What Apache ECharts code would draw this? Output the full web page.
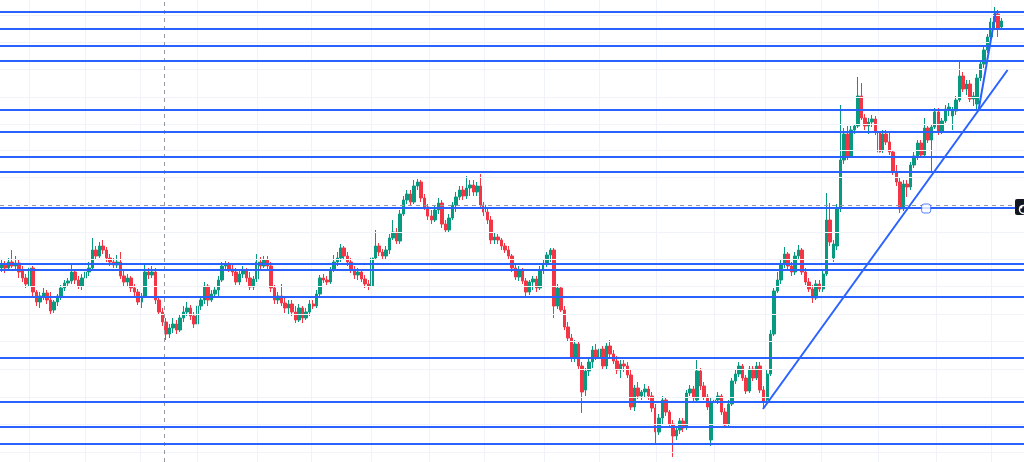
<!DOCTYPE html>
<html><head><meta charset="utf-8">
<script src="https://cdn.jsdelivr.net/npm/echarts@6/dist/echarts.min.js"></script>
<style>html,body{margin:0;padding:0;background:#fff;overflow:hidden}#c{width:1024px;height:462px}</style>
</head><body><div id="c"></div>
<script>
// ---- candle data (price units) ----
const opens = [
232,236,232,238,234,237,230,222,214,232,208,198,204,207,200,190,198,204,212,217,219,228,220,214,222,228,232,250,244,254,250,242,238,235,238,224,218,222,212,208,198,204,228,225,228,200,188,178,166,
172,176,170,182,188,192,184,176,194,200,214,200,206,210,220,234,236,231,228,218,226,229,222,213,221,238,234,240,234,212,200,204,197,192,196,188,180,192,182,188,196,194,206,222,220,218,230,238,
242,252,244,238,230,225,228,221,216,214,242,254,248,244,250,262,268,259,286,300,306,298,314,318,302,293,284,280,290,297,276,270,282,295,303,310,304,312,315,308,314,295,288,280,260,263,260,254,250,
244,232,223,230,219,208,218,221,212,230,236,245,250,194,212,190,173,162,142,156,134,110,129,138,150,143,151,134,154,146,139,130,136,134,125,93,112,104,108,111,104,92,68,82,100,88,
76,64,70,79,73,107,111,100,129,114,103,60,98,100,104,88,76,96,119,126,134,122,109,131,122,134,110,100,126,166,209,220,236,246,234,228,244,250,228,218,211,202,216,211,226,280,242,254,292,340,
366,344,370,374,404,382,374,378,381,368,350,366,358,348,328,318,291,316,313,335,344,357,345,372,360,373,388,368,379,391,384,389,400,424,411,416,401,396,422,436,450,463,478,486,473];
const closes = [
236,232,238,234,237,228,222,216,232,208,198,204,207,200,189,198,204,212,217,219,228,220,214,222,228,232,250,244,254,250,242,238,235,238,224,218,222,212,208,198,204,228,225,228,200,188,178,166,172,
176,170,182,188,192,184,176,194,200,214,200,206,210,220,234,236,231,228,218,226,229,222,213,221,238,234,240,234,212,200,204,197,192,196,188,180,192,182,188,196,194,206,222,220,218,230,238,242,
252,244,238,230,225,228,221,216,214,242,254,248,244,250,262,268,259,286,300,306,298,314,318,302,293,284,280,290,297,276,270,282,295,303,310,304,312,315,308,314,295,288,280,260,263,260,254,250,244,
232,223,230,219,208,218,221,212,230,236,245,250,194,212,190,173,162,142,156,134,108,129,138,150,143,151,134,154,146,139,130,136,134,125,93,112,104,108,111,104,92,68,82,100,88,76,
64,70,79,72,107,111,102,129,114,103,93,98,100,104,88,75,96,119,126,134,122,109,131,122,134,110,98,126,166,209,220,236,246,234,228,244,250,228,218,211,202,216,211,226,280,258,256,292,340,366,
344,370,374,404,382,374,378,381,368,348,366,358,348,328,318,291,316,313,335,344,357,345,372,360,373,388,368,379,391,393,389,400,424,411,416,401,404,422,436,450,463,478,486,472,479];
const lows = [
228,227,230,232,230,222,218,212,210,204,194,192,200,196,186,187,194,200,209,213,216,216,211,210,219,224,230,240,242,246,238,234,232,232,221,214,214,208,204,195,192,202,221,222,196,185,174,160,162,
167,166,168,178,184,180,172,174,190,196,194,198,202,204,218,230,228,224,215,215,222,218,210,210,218,230,232,230,208,196,196,194,187,186,184,177,178,177,180,184,191,192,204,217,215,216,228,234,
238,240,234,227,221,220,218,212,210,208,240,244,240,241,246,260,256,256,284,296,295,296,310,298,290,280,276,278,286,272,267,268,280,288,300,300,301,304,304,304,292,284,276,256,256,256,250,247,240,
228,220,219,216,204,205,210,208,210,226,233,238,182,191,188,170,159,138,138,130,87,104,124,132,140,138,130,131,142,136,126,122,128,122,90,89,101,100,102,100,88,57,65,76,84,72,
43,60,66,68,70,104,98,97,110,100,90,54,90,96,85,72,74,94,116,123,119,106,107,119,120,107,93,98,124,164,207,216,232,230,224,225,241,225,215,208,197,200,208,208,224,254,238,250,288,336,
340,342,366,372,380,370,366,373,365,345,347,355,345,325,314,287,289,303,310,332,340,342,342,357,328,371,365,366,377,384,370,385,398,408,405,398,394,390,419,432,447,460,472,463,472];
const highs = [
240,239,242,250,244,240,234,226,235,234,210,208,212,210,208,200,206,215,220,222,237,230,224,226,232,238,262,254,258,260,253,246,242,245,248,230,226,224,216,211,207,236,232,234,232,204,192,182,176,
182,180,186,194,198,195,188,198,204,218,216,210,214,224,238,239,238,235,232,230,234,232,228,224,246,243,244,244,238,215,208,216,202,200,200,194,196,194,192,200,200,210,225,226,224,233,245,248,
256,254,248,242,234,232,230,225,220,246,270,257,251,254,266,280,272,290,304,310,310,320,321,320,306,296,290,294,302,300,280,286,298,308,314,314,324,320,320,318,326,298,292,284,268,266,262,257,254,
246,235,234,232,222,220,224,224,234,240,248,252,252,216,214,194,178,166,160,158,138,132,142,154,156,154,154,157,160,150,144,140,140,138,130,115,118,110,116,114,108,96,86,104,102,90,
80,74,82,82,110,115,114,140,132,118,106,102,104,108,106,92,100,122,130,138,136,125,134,134,138,138,114,130,170,212,228,240,253,248,238,248,255,252,232,222,215,220,220,230,307,297,260,296,395,372,
374,374,376,423,417,386,382,385,384,372,370,370,368,350,335,322,320,320,338,348,360,360,382,374,376,392,392,382,395,397,393,404,438,428,420,420,408,426,440,453,466,482,493,490,482];

// ---- drawings (price levels, trend lines) ----
const levels = [488,471,454,439,390,368,343,328,292,236,230,203,142,98,73,56];
const trendLine1 = [[217.8,91],[287.8,430]];
const trendLine2 = [[279.5,390],[284.4,488]];
const handlePoint = [[264.5,291.5]];
const crosshairIdx = 46.6;
const crosshairPrice = 294.5;
const timeGrid = [7.8,23.8,39.5,55.8,73.2,88.6,105.8,122.4,138.1,155.2,170.9,187.2,203.8,218.6,234.4,250.9,267.5,283.2];
const priceGrid = [485,458,431,403,376,350,323,268,241,214,186,159,131,103,76,48];
const SLOTS = 293;

const cats = Array.from({length: SLOTS}, (_, i) => String(i));
const candleData = opens.map((o, i) => [o, closes[i], lows[i], highs[i]]);
const BLUE = '#2962ff';

const chart = echarts.init(document.getElementById('c'), null, {renderer: 'canvas'});
chart.setOption({
  animation: false,
  backgroundColor: '#ffffff',
  grid: {left: 0, top: 0, width: SLOTS * 3.5, height: 462, containLabel: false},
  xAxis: [
    {type: 'category', data: cats, boundaryGap: true, show: false},
    {type: 'value', min: -0.5, max: SLOTS - 0.5, show: false}
  ],
  yAxis: {type: 'value', min: 38, max: 500, show: false, scale: true},
  series: [
    {
      type: 'line', xAxisIndex: 1, data: [], silent: true, z: 1,
      markLine: {
        silent: true, symbol: ['none', 'none'], label: {show: false}, animation: false,
        lineStyle: {color: '#f0f3fa', width: 1, type: 'solid'},
        data: timeGrid.map(v => ({xAxis: v})).concat(priceGrid.map(v => ({yAxis: v})))
      }
    },
    {
      type: 'candlestick', data: candleData, barWidth: 3, z: 3,
      itemStyle: {color: '#089981', color0: '#f23645', borderColor: '#089981', borderColor0: '#f23645', borderWidth: 1}
    },
    {
      type: 'line', xAxisIndex: 1, data: [], silent: true, z: 4,
      markLine: {
        silent: true, symbol: ['none', 'none'], label: {show: false}, animation: false,
        lineStyle: {color: '#9598a1', width: 1, type: [4, 4]},
        data: [{xAxis: crosshairIdx}, {yAxis: crosshairPrice}]
      }
    },
    {
      type: 'line', data: [], silent: true, z: 5,
      markLine: {
        silent: true, symbol: ['none', 'none'], label: {show: false}, animation: false,
        lineStyle: {color: BLUE, width: 2, type: 'solid'},
        data: levels.map(v => ({yAxis: v}))
      }
    },
    {type: 'line', xAxisIndex: 1, data: trendLine1, symbol: 'none', silent: true, z: 6,
     lineStyle: {color: BLUE, width: 2}},
    {type: 'line', xAxisIndex: 1, data: trendLine2, symbol: 'none', silent: true, z: 6,
     lineStyle: {color: BLUE, width: 2}},
    {type: 'scatter', xAxisIndex: 1, data: handlePoint, symbol: 'roundRect', symbolSize: 9, z: 7, silent: true,
     itemStyle: {color: '#ffffff', borderColor: BLUE, borderWidth: 1}}
  ],
  graphic: [
    {type: 'rect', left: 1015, top: 199, shape: {width: 14, height: 16, r: 2}, style: {fill: '#131722'}, z: 100},
    {type: 'circle', left: 1017, top: 203, shape: {r: 4}, style: {fill: 'none', stroke: '#ffffff', lineWidth: 1.5}, z: 101},
    {type: 'circle', left: 1019.5, top: 205.5, shape: {r: 1.5}, style: {fill: '#ffffff'}, z: 101}
  ]
});
</script>
</body></html>
